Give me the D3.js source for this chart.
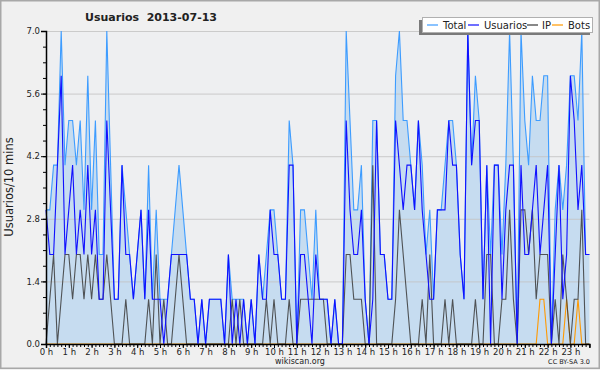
<!DOCTYPE html>
<html lang="es">
<head>
<meta charset="UTF-8"/>
<title>Usuarios 2013-07-13</title>
<script src="https://d3js.org/d3.v7.min.js"></script>
<style type="text/css">
  body { margin: 0; background: #f0f0f0; }
  text { font-family: "DejaVu Sans", sans-serif; fill: #222; }
  .line { fill: none; stroke-width: 1.1; }
</style>
</head>
<body>
<script>

// one value per 10-minute slot, 00:00 .. 23:50
var total = [3,3,4,4,7,4,5,5,4,5,3,6,3,5,2,2,7,4,1,1,4,3,2,1,
             2,3,1,4,1,3,1,1,1,2,3,4,3,2,1,1,0,1,0,1,1,1,1,0,
             2,1,1,1,1,0,1,0,2,1,2,3,3,2,1,1,5,4,0,3,3,2,1,3,
             1,1,1,0,1,0,0,7,5,3,3,4,1,0,5,5,2,2,1,1,6,7,5,5,
             4,3,5,4,2,3,1,3,3,4,5,5,4,2,1,7,4,6,5,1,4,2,4,4,
             2,4,7,4,0,7,5,4,6,5,5,6,6,0,3,4,3,4,6,6,5,7,2,2];
var usuarios = [3,2,2,4,6,2,3,4,2,3,2,4,2,3,1,1,5,3,1,1,4,2,2,1,
                2,3,1,3,1,1,1,0,1,2,2,2,2,2,1,1,0,1,0,1,1,1,1,0,
                2,0,1,0,1,0,1,0,2,1,1,3,2,2,1,1,4,4,0,2,2,1,0,2,
                1,1,1,0,1,0,0,5,3,2,2,3,1,0,1,5,2,2,1,1,5,4,3,4,
                4,3,5,3,2,1,1,3,3,3,5,4,4,2,1,7,4,5,5,1,4,0,4,4,
                1,3,4,4,0,4,2,2,3,4,2,3,4,0,2,4,1,2,6,5,3,4,2,2];
var ip = [0,1,2,0,1,2,2,1,2,2,1,2,1,2,1,1,2,1,0,0,0,1,0,0,
          0,0,0,1,0,2,0,1,0,0,1,2,1,0,0,0,0,0,0,0,0,0,0,0,
          0,1,0,1,0,0,0,0,0,0,1,0,1,0,0,0,1,0,0,1,1,1,1,1,
          1,1,0,0,0,0,0,2,2,1,1,1,0,0,4,0,0,0,0,0,1,3,2,1,
          0,0,0,1,0,2,0,0,0,1,0,1,0,0,0,0,0,1,0,0,2,2,0,0,
          1,1,3,1,0,3,3,2,3,1,2,2,2,0,1,0,2,1,0,1,1,3,0,0];
var bots = [0,0,0,0,0,0,0,0,0,0,0,0,0,0,0,0,0,0,0,0,0,0,0,0,
            0,0,0,0,0,0,0,0,0,0,0,0,0,0,0,0,0,0,0,0,0,0,0,0,
            0,0,0,0,0,0,0,0,0,0,0,0,0,0,0,0,0,0,0,0,0,0,0,0,
            0,0,0,0,0,0,0,0,0,0,0,0,0,0,0,0,0,0,0,0,0,0,0,0,
            0,0,0,0,0,0,0,0,0,0,0,0,0,0,0,0,0,0,0,0,0,0,0,0,
            0,0,0,0,0,0,0,0,0,0,1,1,0,0,0,0,0,1,0,0,1,0,0,0];

var hourLabels = ["0 h","1 h","2 h","3 h","4 h","5 h","6 h","7 h","8 h","9 h","10 h","11 h",
                  "12 h","13 h","14 h","15 h","16 h","17 h","18 h","19 h","20 h","21 h","22 h","23 h"];
var yTicks = [0, 1.4, 2.8, 4.2, 5.6, 7.0];
var series = [
  {name: "Total",    values: total,    color: "#3d9cff"},
  {name: "Usuarios", values: usuarios, color: "#1010ff"},
  {name: "IP",       values: ip,       color: "#3a3a3a"},
  {name: "Bots",     values: bots,     color: "#ff9900"}
];

var W = 600, H = 370;
var pLeft = 46, pRight = 589.4, pTop = 31, pBottom = 344;

var svg = d3.select("body").append("svg")
    .attr("width", W)
    .attr("height", H);

// background + frame
svg.append("rect").attr("x", 0).attr("y", 0).attr("width", W).attr("height", H)
    .attr("fill", "#f0f0f0");
svg.append("rect").attr("x", pLeft).attr("y", pTop).attr("width", pRight - pLeft).attr("height", pBottom - pTop)
    .attr("fill", "#eeeff1");
svg.append("rect").attr("x", 0.75).attr("y", 0.75).attr("width", W - 1.5).attr("height", H - 2.5)
    .attr("fill", "none").attr("stroke", "#a8a8a8").attr("stroke-width", 1.5);

var x = d3.scaleLinear().domain([0, total.length - 1]).range([pLeft, pRight]);
var y = d3.scaleLinear().domain([0, 7]).range([pBottom, pTop]);

// area under Total
var area = d3.area()
    .x(function(d, i) { return x(i); })
    .y0(y(0))
    .y1(function(d) { return y(d); });
svg.append("path")
    .datum(total)
    .attr("fill", "#c6dcf0")
    .attr("d", area);

// grid
svg.append("g").selectAll("line")
    .data(yTicks.slice(1))
  .enter().append("line")
    .attr("x1", pLeft).attr("x2", pRight)
    .attr("y1", function(d) { return y(d) + 0.5; })
    .attr("y2", function(d) { return y(d) + 0.5; })
    .attr("stroke", "#c4c4c4")
    .attr("stroke-opacity", 0.85);

// lines
var line = d3.line()
    .x(function(d, i) { return x(i); })
    .y(function(d) { return y(d); });

[series[0], series[3], series[2], series[1]].forEach(function(s) {
  svg.append("path")
      .datum(s.values)
      .attr("class", "line")
      .attr("stroke", s.color)
      .attr("stroke-opacity", s.name === "IP" ? 0.85 : 1)
      .attr("d", line);
});

// y axis
var yMinor = d3.range(0, 7.0001, 0.35);
svg.append("g")
    .attr("transform", "translate(" + pLeft + ",0)")
    .call(d3.axisLeft(y).tickValues(yMinor).tickSize(3).tickFormat(""))
    .call(function(g) { g.select(".domain").remove(); g.selectAll("line").attr("stroke", "#000"); });
var yAxis = svg.append("g")
    .attr("transform", "translate(" + pLeft + ",0)")
    .call(d3.axisLeft(y).tickValues(yTicks).tickSize(5).tickPadding(1).tickFormat(d3.format(".1f")));
yAxis.select(".domain").attr("stroke-width", 1.5);
yAxis.selectAll("text").attr("font-size", 8.5).attr("font-family", "Liberation Sans").attr("fill", "#222");

// x axis
svg.append("g")
    .attr("transform", "translate(0," + pBottom + ")")
    .call(d3.axisBottom(x).tickValues(d3.range(0, total.length)).tickSize(3).tickFormat(""))
    .call(function(g) { g.select(".domain").remove(); g.selectAll("line").attr("stroke", "#000"); });
var xAxis = svg.append("g")
    .attr("transform", "translate(0," + pBottom + ")")
    .call(d3.axisBottom(x).tickValues(d3.range(0, 24).map(function(h) { return h * 6; }))
        .tickSize(4).tickPadding(1)
        .tickFormat(function(d) { return hourLabels[d / 6]; }));
xAxis.select(".domain").attr("stroke-width", 1.5);
xAxis.selectAll("text").attr("font-size", 8.5).attr("font-family", "Liberation Sans").attr("fill", "#222");

// titles
svg.append("text")
    .attr("x", 151).attr("y", 21)
    .attr("text-anchor", "middle")
    .attr("font-size", 11).attr("font-weight", "bold")
    .style("white-space", "pre")
    .text("Usuarios  2013-07-13");

svg.append("text")
    .attr("transform", "translate(13," + 187 + ") rotate(-90)")
    .attr("text-anchor", "middle")
    .attr("font-size", 11.5)
    .attr("font-family", "DejaVu Sans Mono")
    .text("Usuarios/10 mins");

svg.append("text")
    .attr("x", 300).attr("y", 364)
    .attr("text-anchor", "middle")
    .attr("font-size", 8)
    .attr("fill", "#333")
    .text("wikiscan.org");

svg.append("text")
    .attr("x", 590).attr("y", 364)
    .attr("text-anchor", "end")
    .attr("font-size", 6.5)
    .attr("fill", "#333")
    .text("CC BY-SA 3.0");

// legend
var legLine = [427, 468, 527, 552];
var legText = [443, 484, 542, 568];
var legend = svg.append("g");
legend.append("rect").attr("x", 419).attr("y", 20).attr("width", 171).attr("height", 15).attr("fill", "#7a7a7a");
legend.append("rect").attr("x", 422.5).attr("y", 17.5).attr("width", 170).attr("height", 15)
    .attr("fill", "#fff").attr("stroke", "#b0b0b0");
series.forEach(function(s, i) {
  legend.append("line")
      .attr("x1", legLine[i]).attr("x2", legLine[i] + 11)
      .attr("y1", 25).attr("y2", 25)
      .attr("stroke", s.color).attr("stroke-width", 1.2);
  legend.append("text")
      .attr("x", legText[i]).attr("y", 29)
      .attr("font-size", 10)
      .attr("font-family", "Liberation Sans")
      .text(s.name);
});

</script>
</body>
</html>
